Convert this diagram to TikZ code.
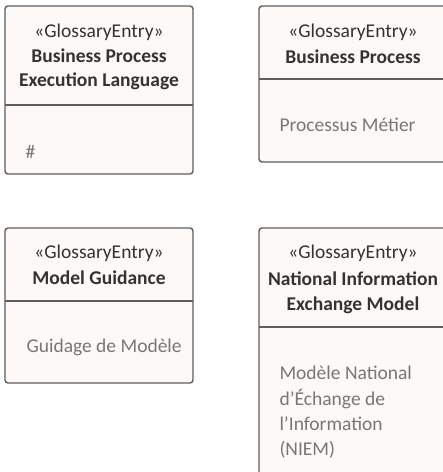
\documentclass[tikz,border=0pt]{standalone}
\usepackage{fontspec}
\setmainfont{Carlito}
\usepackage{tikz}
\usetikzlibrary{positioning}
\definecolor{Edge}{HTML}{5E5E5E}
\definecolor{Paper}{HTML}{FDF9F7}
\definecolor{Ink}{HTML}{333333}
\definecolor{Body}{HTML}{777777}
\newcommand{\HeadTxt}[4]{%
  \node[font=\fontsize{19.5}{22}\selectfont,text=Ink] (#1) at (#2,#3) {#4};%
}
\newcommand{\BodyTxt}[4]{%
  \node[anchor=west,font=\fontsize{19.5}{22}\selectfont,text=Body] (#1) at (#2,#3) {#4};%
}
\tikzset{
  gbox/.style={draw=Edge,fill=Paper,line width=1.4pt,rounded corners=3pt},
  gdiv/.style={draw=Edge,line width=1.4pt}
}

\begin{document}
\begin{tikzpicture}[x=1pt,y=-1pt]
\useasboundingbox (0,0) rectangle (443,472);
\draw[gbox] (5,6) rectangle (193,174);
\draw[gdiv] (5,105) -- (193,105);
\draw[gbox] (259,6) rectangle (447,162);
\draw[gdiv] (259,79) -- (447,79);
\draw[gbox] (5,228) rectangle (193,383);
\draw[gdiv] (5,301) -- (193,301);
\draw[gbox] (259,228) rectangle (447,480);
\draw[gdiv] (259,327) -- (447,327);
\HeadTxt{bpelst}{99}{32}{«GlossaryEntry»}
\HeadTxt{bpela}{99}{56}{\bfseries Business Process}
\HeadTxt{bpelb}{99}{81}{\bfseries Execution Language}
\BodyTxt{bpelval}{22}{152}{\#}
\HeadTxt{bpst}{353}{32}{«GlossaryEntry»}
\HeadTxt{bpa}{353}{57}{\bfseries Business Process}
\BodyTxt{bpval}{276}{125}{Processus Métier}
\HeadTxt{mgst}{99}{253}{«GlossaryEntry»}
\HeadTxt{mga}{99}{278}{\bfseries Model Guidance}
\BodyTxt{mgval}{23}{347}{Guidage de Modèle}
\HeadTxt{niemst}{353}{253}{«GlossaryEntry»}
\HeadTxt{niema}{353}{279}{\bfseries National Information}
\HeadTxt{niemb}{353}{305}{\bfseries Exchange Model}
\BodyTxt{niemv1}{276}{373}{Modèle National}
\BodyTxt{niemv2}{276}{399}{d’Échange de}
\BodyTxt{niemv3}{276}{424}{l’Information}
\BodyTxt{niemv4}{276}{450}{(NIEM)}
\end{tikzpicture}
\end{document}
